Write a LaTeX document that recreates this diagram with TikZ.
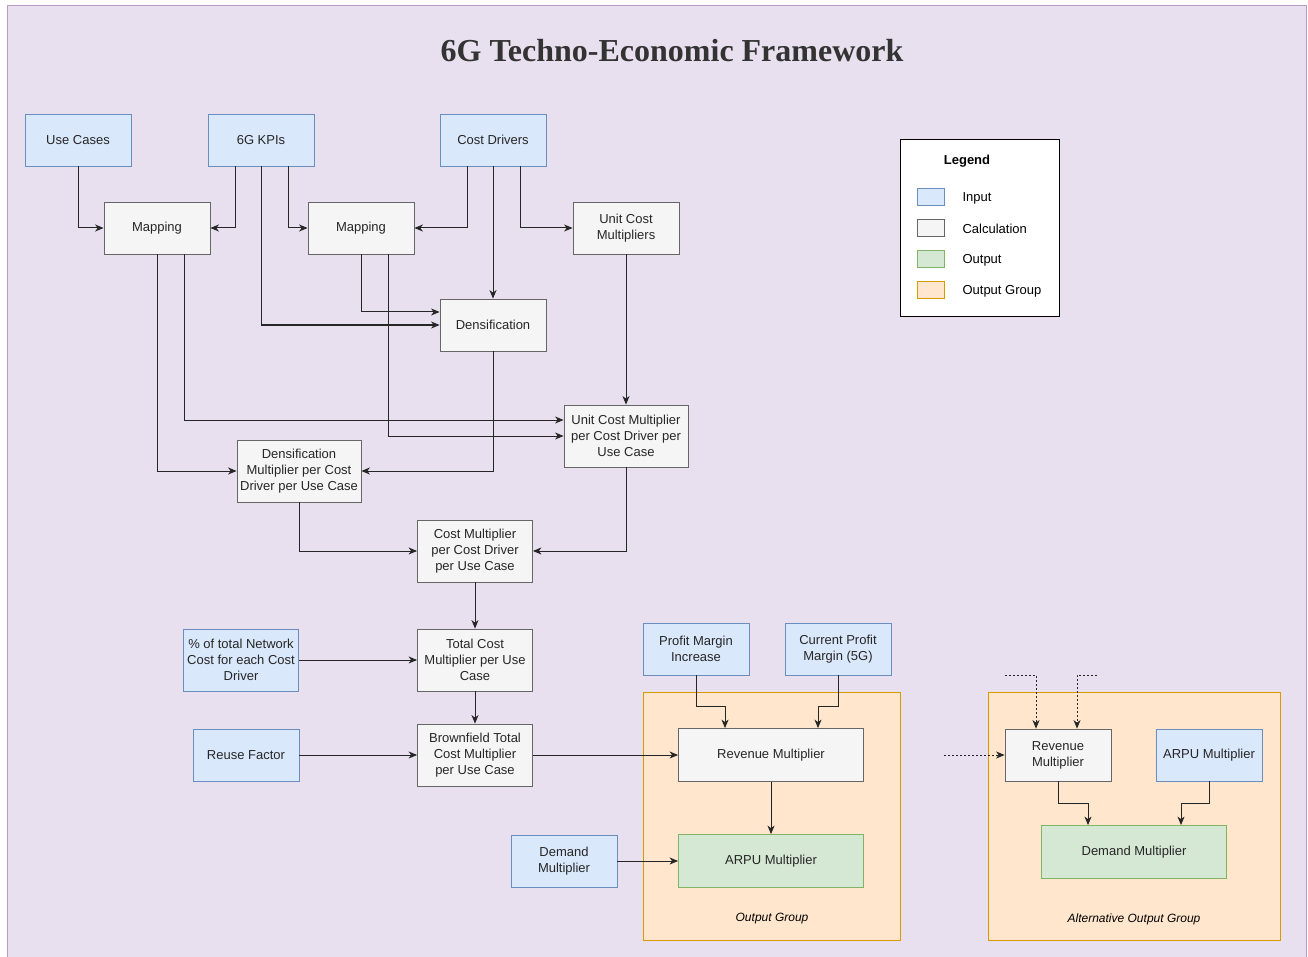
\documentclass[tikz,border=0pt]{standalone}
\usepackage{fontspec}
\setmainfont{Liberation Sans}
\newfontfamily\titlefont{Liberation Serif}
\usetikzlibrary{arrows.meta}

\definecolor{bgfill}{HTML}{E8E0EE}
\definecolor{bgline}{HTML}{B89CC8}
\definecolor{infill}{HTML}{DAE8FC}
\definecolor{inline}{HTML}{6C8EBF}
\definecolor{calcfill}{HTML}{F5F5F5}
\definecolor{calcline}{HTML}{666666}
\definecolor{outfill}{HTML}{D5E8D4}
\definecolor{outline}{HTML}{82B366}
\definecolor{grpfill}{HTML}{FFE6CC}
\definecolor{grpline}{HTML}{D79B00}

\tikzset{
  box/.style={draw, line width=0.8pt, align=center, inner sep=0pt,
    minimum width=106pt, minimum height=52pt, text=black!85,
    font=\fontsize{13}{16}\selectfont},
  inbox/.style={box, fill=infill, draw=inline},
  calcbox/.style={box, fill=calcfill, draw=calcline},
  outbox/.style={box, fill=outfill, draw=outline},
  wide/.style={minimum width=124pt, minimum height=62pt},
  mid/.style={minimum width=115pt, minimum height=62pt},
  long/.style={minimum width=185pt, minimum height=53pt},
  arr/.style={-{Stealth[length=8.5pt,width=7pt,inset=2.5pt]}, line width=1pt, black!85},
  dotarr/.style={arr, dash pattern=on 2pt off 2pt},
  grp/.style={fill=grpfill, draw=grpline, line width=0.8pt},
  swatch/.style={draw, line width=0.8pt, minimum width=27pt, minimum height=17pt, inner sep=0pt},
  legtext/.style={anchor=west, font=\fontsize{13}{16}\selectfont}
}

\begin{document}
\begin{tikzpicture}[x=1pt, y=-1pt]
\useasboundingbox (0,0) rectangle (1308,957);
% background
\fill[bgfill] (7,6) rectangle (1306,957);
\draw[bgline, line width=1pt] (7,957) -- (7,6) -- (1306,6) -- (1306,957);

\node[font=\titlefont\bfseries\fontsize{32}{36}\selectfont, text=black!80] (title) at (672,51) {6G Techno-Economic Framework};

% output groups
\draw[grp] (643,692) rectangle (900,940);
\draw[grp] (988,692) rectangle (1280,940);
\node[font=\itshape\fontsize{12}{14}\selectfont] (grplabel) at (772,919) {Output Group};
\node[font=\itshape\fontsize{12}{14}\selectfont] (altlabel) at (1134,919) {Alternative Output Group};

% inputs
\node[inbox] (usecases) at (78,140) {Use Cases};
\node[inbox] (kpis) at (261,140) {6G KPIs};
\node[inbox] (drivers) at (493,140) {Cost Drivers};

% first calculations
\node[calcbox] (map1) at (157,228) {Mapping};
\node[calcbox] (map2) at (361,228) {Mapping};
\node[calcbox] (ucm) at (626,228) {Unit Cost\\Multipliers};
\node[calcbox] (dens) at (493,325) {Densification};
\node[calcbox, wide] (ucmcd) at (626,436) {Unit Cost Multiplier\\per Cost Driver per\\Use Case};
\node[calcbox, wide] (densm) at (299,471) {Densification\\Multiplier per Cost\\Driver per Use Case};
\node[calcbox, mid] (costm) at (475,551) {Cost Multiplier\\per Cost Driver\\per Use Case};
\node[calcbox, mid] (total) at (475,660) {Total Cost\\Multiplier per Use\\Case};
\node[inbox, mid] (share) at (241,660) {\% of total Network\\Cost for each Cost\\Driver};
\node[inbox] (reuse) at (246,755) {Reuse Factor};
\node[calcbox, mid] (brown) at (475,755) {Brownfield Total\\Cost Multiplier\\per Use Case};

% output group
\node[inbox] (pmi) at (696,649) {Profit Margin\\Increase};
\node[inbox] (cpm) at (838,649) {Current Profit\\Margin (5G)};
\node[calcbox, long] (rev) at (771,755) {Revenue Multiplier};
\node[outbox, long] (arpu) at (771,861) {ARPU Multiplier};
\node[inbox] (demand) at (564,861) {Demand\\Multiplier};

% alternative output group
\node[calcbox] (altrev) at (1058,755) {Revenue\\Multiplier};
\node[inbox] (altarpu) at (1209,755) {ARPU Multiplier};
\node[outbox, long] (altdem) at (1134,852) {Demand Multiplier};
\coordinate (dotA) at (1005,675);
\coordinate (dotB) at (1097,675);
\coordinate (dotC) at (944,755);

% legend
\draw[fill=white, line width=0.8pt] (900,139) rectangle (1059,316);
\node[font=\bfseries\fontsize{13}{16}\selectfont] (legend) at (967,161) {Legend};
\node[swatch, fill=infill, draw=inline] (sw1) at (931,197) {};
\node[swatch, fill=calcfill, draw=calcline] (sw2) at (931,228) {};
\node[swatch, fill=outfill, draw=outline] (sw3) at (931,259) {};
\node[swatch, fill=grpfill, draw=grpline] (sw4) at (931,290) {};
\node[legtext] (lg1) at (959,198) {Input};
\node[legtext] (lg2) at (959,229) {Calculation};
\node[legtext] (lg3) at (959,260) {Output};
\node[legtext] (lg4) at (959,291) {Output Group};

% connectors
\draw[arr] (usecases.south) |- (map1.west);
\draw[arr] ([xshift=-26pt]kpis.south) |- (map1.east);
\draw[arr] ([xshift=27pt]kpis.south) |- (map2.west);
\draw[arr] (kpis.south) |- (dens.west);
\draw[arr] ([xshift=-26pt]drivers.south) |- (map2.east);
\draw[arr] (drivers.south) -- (dens.north);
\draw[arr] ([xshift=27pt]drivers.south) |- (ucm.west);
\draw[arr] (map1.south) |- (densm.west);
\draw[arr] ([xshift=27pt]map1.south) |- ([yshift=16pt]ucmcd.west);
\draw[arr] (map2.south) |- ([yshift=13pt]dens.west);
\draw[arr] ([xshift=27pt]map2.south) |- (ucmcd.west);
\draw[arr] (dens.south) |- (densm.east);
\draw[arr] (ucm.south) -- (ucmcd.north);
\draw[arr] (densm.south) |- (costm.west);
\draw[arr] (ucmcd.south) |- (costm.east);
\draw[arr] (costm.south) -- (total.north);
\draw[arr] (share.east) -- (total.west);
\draw[arr] (total.south) -- (brown.north);
\draw[arr] (reuse.east) -- (brown.west);
\draw[arr] (brown.east) -- (rev.west);
\draw[arr] (pmi.south) -- ++(0,31) -| ([xshift=-46pt]rev.north);
\draw[arr] (cpm.south) -- ++(0,31) -| ([xshift=47pt]rev.north);
\draw[arr] (rev.south) -- (arpu.north);
\draw[arr] (demand.east) -- (arpu.west);
\draw[arr] (altrev.south) -- ++(0,22) -| ([xshift=-46pt]altdem.north);
\draw[arr] (altarpu.south) -- ++(0,22) -| ([xshift=47pt]altdem.north);
\draw[dotarr] (dotA) -| ([xshift=-22pt]altrev.north);
\draw[dotarr] (dotB) -| ([xshift=19pt]altrev.north);
\draw[dotarr] (dotC) -- (altrev.west);
\end{tikzpicture}
\end{document}
